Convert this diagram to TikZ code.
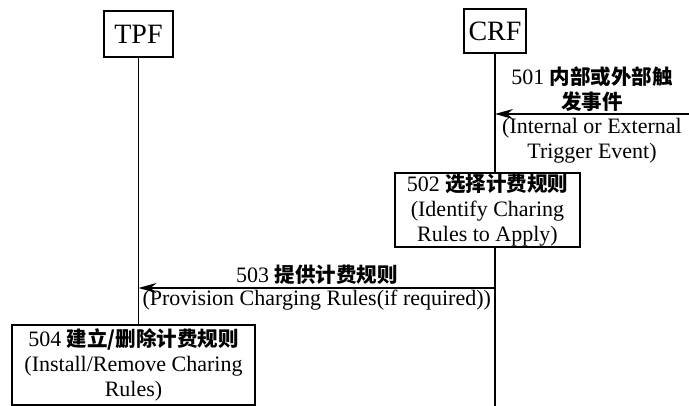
\documentclass[tikz,border=0pt]{standalone}
\usepackage{fontspec}
\setmainfont{Liberation Serif}
\newfontfamily\cjk{Noto Sans CJK SC}
\usetikzlibrary{arrows.meta,calc}

\newcommand{\zh}[1]{{\fontsize{20.5}{25}\selectfont\cjk\bfseries #1}}

\begin{document}
\begin{tikzpicture}[x=1pt,y=-1pt,font=\fontsize{22}{25}\selectfont]
\tikzstyle{ent}= [rectangle,draw,line width=1.6pt,font=\fontsize{28}{30}\selectfont]
\tikzstyle{act}= [rectangle,draw,line width=1.6pt,fill=white,align=center,inner sep=1pt]
\tikzstyle{msg}= [-{Stealth[length=18pt,width=10pt]},line width=1.6pt]
\tikzstyle{life}= [line width=1.6pt]

\useasboundingbox (0,0) rectangle (689,406);
\path
	(138.5,34) node[ent,minimum width=69pt,minimum height=46pt] (tpf) {TPF}
	(495,31)   node[ent,minimum width=62pt,minimum height=44pt] (crf) {CRF}
	(487.5,210) node[act,minimum width=185pt,minimum height=74pt] (sel)
		{502 \zh{选择计费规则}\\(Identify Charing\\Rules to Apply)}
	(133.5,365) node[act,minimum width=243pt,minimum height=80pt] (inst)
		{504 \zh{建立/删除计费规则}\\(Install/Remove Charing\\Rules)}
	(689,114)  coordinate (trig)
	(495,406)  coordinate (crfend)
;
\coordinate (crf501) at (crf.south |- trig);
\coordinate (crf503) at (495,288);
\coordinate (tpf503) at (tpf.south |- crf503);

% lifelines
\draw[life] (tpf.south) -- (tpf.south |- inst.north);
\draw[life] (crf.south) -- (crf.south |- sel.north);
\draw[life] (crf.south |- sel.south) -- (crfend);

% messages
\draw[msg] (trig) -- (crf501);
\node[above,align=center,inner sep=2pt] at ($(trig)!0.5!(crf501)$) {501 \zh{内部或外部触}\\\zh{发事件}};
\node[below,align=center,inner sep=4pt] at ($(trig)!0.5!(crf501)$) {(Internal or External\\Trigger Event)};
\draw[msg] (crf503) -- (tpf503);
\node[above,inner sep=3pt] at ($(crf503)!0.5!(tpf503)$) {503 \zh{提供计费规则}};
\node[below,inner sep=2pt] at ($(crf503)!0.5!(tpf503)$) {(Provision Charging Rules(if required))};
\end{tikzpicture}
\end{document}
